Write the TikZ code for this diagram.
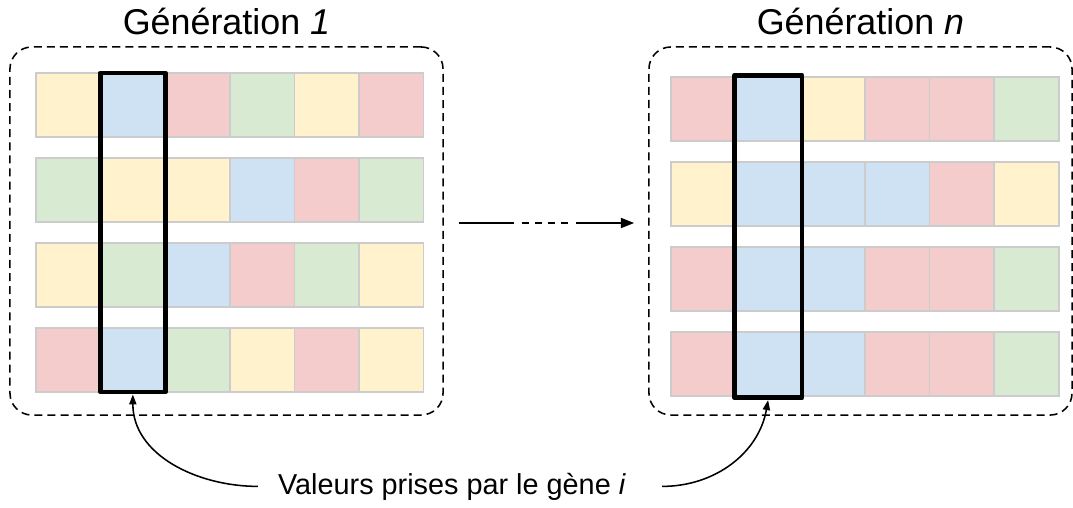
\documentclass[tikz,border=0pt]{standalone}
\usepackage{fontspec}
\setmainfont{Liberation Sans}
\usepackage{xcolor}
\usepackage{tikz}
\usetikzlibrary{arrows.meta, positioning, fit, calc}

\definecolor{cellY}{HTML}{FFF2CC}
\definecolor{cellB}{HTML}{CFE2F3}
\definecolor{cellR}{HTML}{F4CCCC}
\definecolor{cellG}{HTML}{D9EAD3}
\definecolor{cellline}{HTML}{CCCCCC}

\begin{document}
\begin{tikzpicture}[
            x=0.025cm, y=-0.025cm,
            cell/.style={rectangle, draw=cellline, line width=1.1pt, minimum width=1.615cm, minimum height=1.6cm, inner sep=0pt, outer sep=0pt},
            genbox/.style={rectangle, draw, dash pattern=on 5.7pt off 3.6pt, line width=1.1pt, rounded corners=0.55cm, minimum height=9.2cm, inner sep=0pt},
            sel/.style={rectangle, draw, line width=3.5pt, line join=round, inner sep=0pt},
            title/.style={inner sep=0pt, font=\fontsize{25.5}{30}\selectfont},
            note/.style={inner sep=0pt, font=\fontsize{20.5}{24}\selectfont},
            flow/.style={-{Triangle[length=0.33cm, width=0.25cm]}, line width=1.1pt,
                dash pattern=on 39.1pt off 5.7pt on 5.3pt off 3.9pt on 5.3pt off 3.9pt on 5.3pt off 3.9pt on 5.3pt off 5.7pt on 60pt},
            pick/.style={-{Triangle[length=0.25cm, width=0.18cm]}, line width=1.1pt}
        ]
            \useasboundingbox (0,0) rectangle (1073,507);

            % Generation boxes
            \node[genbox, minimum width=10.825cm] (g1) at (226.5,231) {};
            \node[genbox, minimum width=10.575cm] (g2) at (860.5,231) {};
            \node[title, above=0.275cm of g1] (t1) {Génération \textit{1}};
            \node[title, above=0.275cm of g2] (t2) {Génération \textit{n}};

            % Cells
            \foreach \cols [count=\r] in {{Y,B,R,G,Y,R},{G,Y,Y,B,R,G},{Y,G,B,R,G,Y},{R,B,G,Y,R,Y}}
                \foreach \c [count=\k] in \cols
                    \node[cell, fill=cell\c] (l-\r-\k) at ({68.25+64.6*(\k-1)},{105+85*(\r-1)}) {};
            \foreach \cols [count=\r] in {{R,B,Y,R,R,G},{Y,B,B,B,R,Y},{R,B,B,R,R,G},{R,B,B,R,R,G}}
                \foreach \c [count=\k] in \cols
                    \node[cell, fill=cell\c] (r-\r-\k) at ({703.5+64.6*(\k-1)},{109+85*(\r-1)}) {};

            % Gene i
            \node[sel, fit=(l-1-2) (l-4-2)] (sel1) {};
            \node[sel, fit=(r-1-2) (r-4-2), inner sep=0.04cm] (sel2) {};

            % Arrows
            \coordinate (a0) at ([xshift=0.375cm, yshift=0.2cm]g1.east);
            \coordinate (a1) at ([xshift=-0.35cm, yshift=0.2cm]g2.west);
            \draw[flow] (a0) -- (a1);

            \node[note, anchor=base] (lbl) at (452,494) {Valeurs prises par le gène \textit{i}};
            \draw[pick] ([xshift=-0.5cm]lbl.west) to[out=180, in=-90] (sel1.south);
            \draw[pick] ([xshift=0.9cm]lbl.east) to[out=0, in=-100] (sel2.south);
        \end{tikzpicture}
\end{document}
